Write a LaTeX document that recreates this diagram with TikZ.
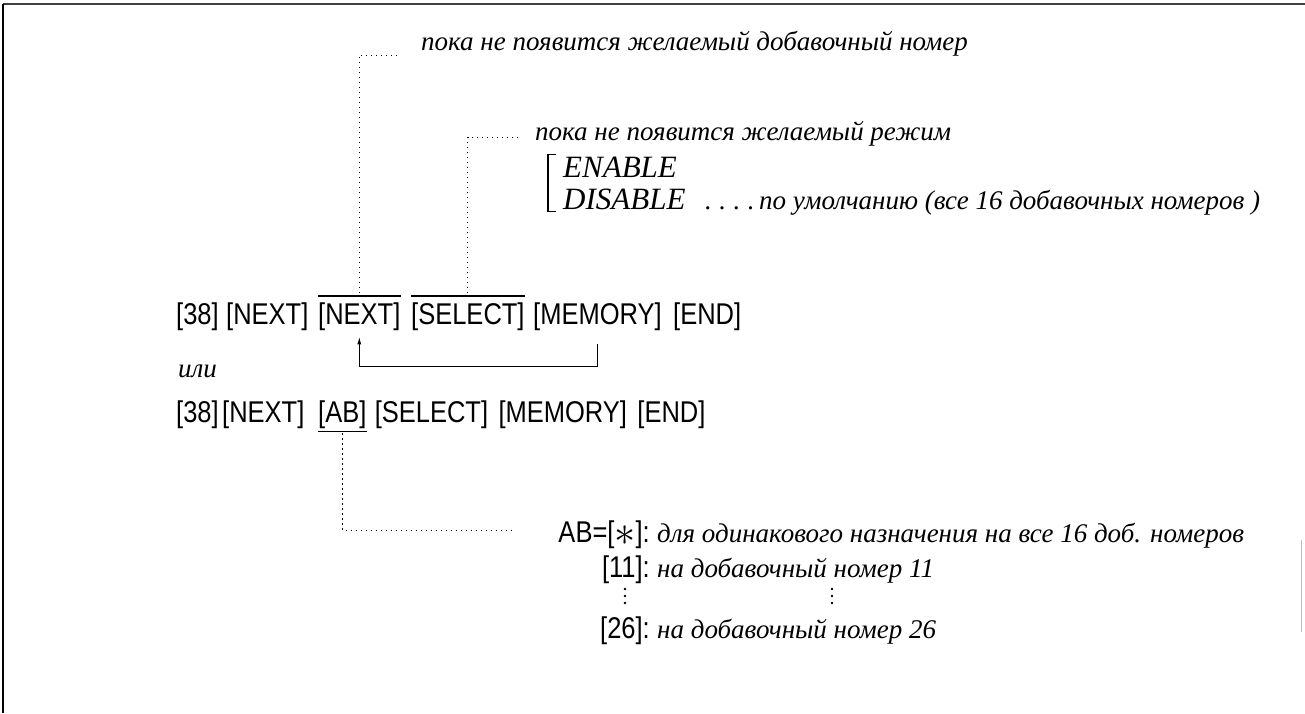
\documentclass[tikz,border=0pt]{standalone}
\usepackage{fontspec}
\usetikzlibrary{arrows.meta, positioning}
\newfontfamily\keyfamily[FakeStretch=0.85]{Liberation Sans}
\newfontfamily\notefamily{Liberation Serif}
\newcommand{\keytext}{\keyfamily\fontsize{30}{36}\selectfont}
\newcommand{\notetext}{\notefamily\itshape\fontsize{27}{32}\selectfont}
\newcommand{\modetext}{\notefamily\itshape\fontsize{31}{36}\selectfont}
\newcommand{\bigast}{\raisebox{-3pt}{\scalebox{1.7}{$\ast$}}}

\begin{document}
\begin{tikzpicture}[x=1pt, y=-1pt,
    key/.style={font=\keytext, anchor=base west, inner sep=0pt},
    lbl/.style={font=\keytext, anchor=base east, inner sep=0pt},
    note/.style={font=\notetext, anchor=base west, inner sep=0pt},
    mode/.style={font=\modetext, anchor=base west, inner sep=0pt},
    leader/.style={dash pattern=on 1.2pt off 3.8pt, line width=1pt},
    bar/.style={line width=1.2pt}]
\useasboundingbox (0,0) rectangle (1305,713);

    % Frame
    \draw[line width=2.2pt, black!75] (3,4) -- (1305,4);
    \draw[line width=1.4pt] (3,4) -- (3,713);
    \draw[line width=0.4pt, black!25] (1301,540) -- (1301,632);

    % First key sequence
    \node[key] (k38) at (176,324) {[38]};
    \node[key] (next1) at (226,324) {[NEXT]};
    \node[key] (next2) at (318,324) {[NEXT]};
    \node[key] (sel) at (411,324) {[SELECT]};
    \node[key] (mem) at (533,324) {[MEMORY]};
    \node[key] (end) at (673,324) {[END]};

    % Overlines of repeated keys
    \draw[bar] ([yshift=6pt]next2.north west) -- ([yshift=6pt]next2.north east);
    \draw[bar] ([yshift=6pt]sel.north west) -- ([yshift=6pt]sel.north east);

    % Repeat loop
    \draw[bar, -{Latex[length=8pt,width=4pt]}] ([yshift=-14pt]mem.south)
        -- ++(0,22) -| ([yshift=-6pt]next2.south);

    % Hints above
    \node[note] (hint1) at (421,50) {пока не появится желаемый добавочный номер};
    \coordinate (lead1) at (398,55);
    \draw[leader] ([yshift=9pt]next2.north) |- (lead1);

    \node[note] (hint2) at (535,140) {пока не появится желаемый режим};
    \coordinate (lead2) at (517,137);
    \draw[leader] ([yshift=9pt]sel.north) |- (lead2);

    \node[mode] (enable) at (563,177) {ENABLE};
    \node[mode] (disable) at (563,209) {DISABLE};
    \draw[bar] ([xshift=-7pt,yshift=2pt]enable.north west) -- ++(-8,0)
        |- ([xshift=-7pt,yshift=-2pt]disable.south west);
    \node[note] (dots) at (705,209) {.\;.\;.\;.};
    \node[note] (deflt) at (759,209) {по умолчанию (все 16 добавочных номеров )};

    \node[note] (ili) at (178,377) {или};

    % Second key sequence
    \node[key] (b38) at (176,422) {[38]};
    \node[key] (bnext) at (222,422) {[NEXT]};
    \node[key] (ab) at (318,422) {[AB]};
    \node[key, base right=8pt of ab] (bsel) {[SELECT]};
    \node[key, base right=10pt of bsel] (bmem) {[MEMORY]};
    \node[key, base right=10pt of bmem] (bend) {[END]};
    \draw[bar] ([yshift=-3pt]ab.south west) -- ([yshift=-3pt]ab.south east);

    % Values of AB
    \coordinate (lead3) at (513,530);
    \draw[leader] ([yshift=-5pt]ab.south) |- (lead3);
    \node[lbl] (abl) at (650,542) {AB=[\bigast]:};
    \node[note] (abt) at (657,542) {для одинакового назначения на все 16 доб. номеров};
    \node[lbl] (l11) at (650,577) {[11]:};
    \node[note] (t11) at (657,577) {на добавочный номер 11};
    \coordinate (v1) at (625,589);
    \coordinate (v2) at (832,589);
    \foreach \d in {0,7,14}{
        \fill (v1) ++(0,\d) circle (1.4pt);
        \fill (v2) ++(0,\d) circle (1.4pt);
    }
    \node[lbl] (l26) at (650,638) {[26]:};
    \node[note] (t26) at (657,638) {на добавочный номер 26};

\end{tikzpicture}
\end{document}
